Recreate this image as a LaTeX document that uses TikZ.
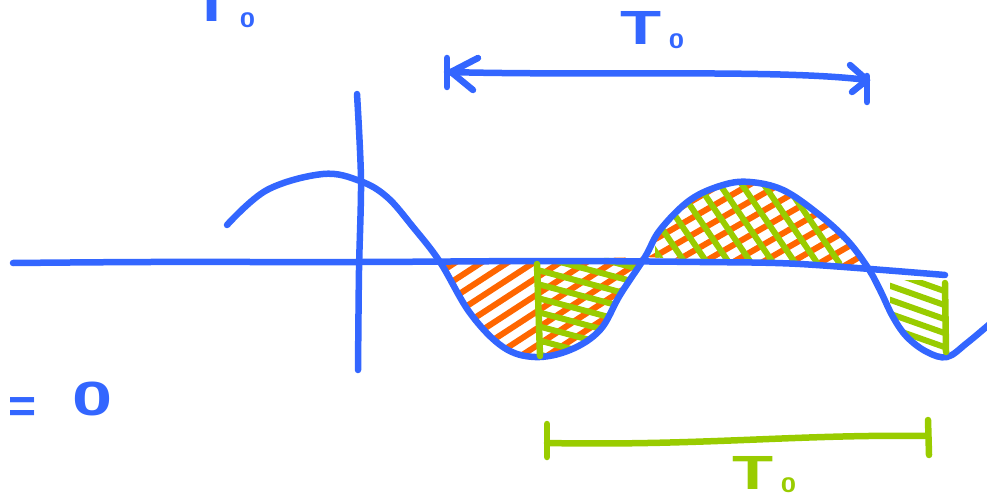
\documentclass[tikz,border=0pt]{standalone}
\usepackage{fontspec}
\setmainfont{Liberation Sans}
\usetikzlibrary{calc}
\definecolor{pblue}{RGB}{51,102,255}
\definecolor{porange}{RGB}{255,102,0}
\definecolor{pgreen}{RGB}{153,204,0}
\tikzset{
  ink/.style={line width=6.5pt, line cap=round, line join=round},
  blueink/.style={ink, draw=pblue},
  greenink/.style={ink, draw=pgreen},
  orhatch/.style={line width=6pt, line cap=round, draw=porange},
  grhatch/.style={line width=6pt, line cap=round, draw=pgreen},
  lbl/.style={inner sep=0pt, anchor=base west, font=\fontsize{48}{48}\selectfont\bfseries},
}
\newcommand\Tsub[1]{\scalebox{1.4}[1]{T}\hspace{7pt}\raisebox{#1}{\fontsize{25}{25}\selectfont\bfseries\scalebox{1.1}[0.85]{0}}}
\begin{document}
\begin{tikzpicture}[x=1pt,y=-1pt]
\useasboundingbox (0,0) rectangle (987,500);
\clip (0,0) rectangle (987,500);

% ---- hatching: first trough (orange)
\begin{scope}
  \clip plot[smooth,tension=0.6] coordinates {(440,262) (470,313) (503,347) (535,357) (570,350) (600,330) (620,295) (645,257)} -- cycle;
  \foreach \c in {262,279,...,520} \draw[orhatch] (430,\c) -- (650,{\c-143});
\end{scope}
% ---- hatching: first trough (green)
\begin{scope}
  \clip (537,240) rectangle (660,370);
  \clip plot[smooth,tension=0.6] coordinates {(440,262) (470,313) (503,347) (535,357) (570,350) (600,330) (620,295) (645,257)} -- cycle;
  \foreach \c in {240,254,...,370} \draw[grhatch] (530,\c) -- (650,{\c+32});
\end{scope}
% ---- hatching: peak (orange)
\begin{scope}
  \clip plot[smooth,tension=0.6] coordinates {(645,257) (660,230) (690,200) (723,185) (750,182) (783,190) (817,213) (847,240) (868,268)} -- cycle;
  \foreach \c in {180,197,...,420} \draw[orhatch] (640,\c) -- (870,{\c-133});
\end{scope}
% ---- hatching: peak (green)
\begin{scope}
  \clip (655,170) rectangle (842,275);
  \clip plot[smooth,tension=0.6] coordinates {(645,257) (660,230) (690,200) (723,185) (750,182) (783,190) (817,213) (847,240) (868,268)} -- cycle;
  \foreach \c in {600,622,...,840} \draw[grhatch] (\c,170) -- ({\c+68},270);
\end{scope}
% ---- hatching: last trough (green)
\begin{scope}
  \clip (890,280) rectangle (945,360);
  \clip plot[smooth,tension=0.6] coordinates {(868,268) (880,290) (893,317) (907,337) (927,352) (945,357)} -- (945,270) -- cycle;
  \foreach \c in {270,284,...,350} \draw[grhatch] (885,\c) -- (950,{\c+23});
\end{scope}

% ---- axes
\draw[blueink] plot[smooth] coordinates {(13,263) (150,262) (360,262) (550,261) (700,262) (800,264) (945,275)};
\draw[blueink] plot[smooth] coordinates {(357,94) (361,180) (359,270) (358,370)};

% ---- wave
\draw[blueink] plot[smooth,tension=0.6] coordinates {(227,225) (267,190) (323,174) (360,181) (387,197) (413,227) (440,262) (470,313) (503,347) (535,357) (570,350) (600,330) (620,295) (645,257) (660,230) (690,200) (723,185) (750,182) (783,190) (817,213) (847,240) (868,268) (880,290) (893,317) (907,337) (927,352) (947,357) (967,343) (992,322)};

% ---- green dividers
\draw[greenink] (537,264) -- (540,356);
\draw[greenink] (945,283) -- (946,352);

% ---- top double arrow
\coordinate (aL) at (447,72);
\coordinate (aR) at (867,80);
\draw[blueink] (aL) .. controls (600,76) and (780,69) .. (aR);
\draw[blueink] (478,58) -- (451,72) -- (473,90);
\draw[blueink] (447,58) -- (447,87);
\draw[blueink] (850,65) -- (aR) -- (852,92);
\draw[blueink] (867,76) -- (867,102);

% ---- bottom green bar
\coordinate (gL) at (547,443);
\coordinate (gR) at (928,436);
\draw[greenink] (gL) .. controls (700,446) and (800,434) .. (gR);
\draw[greenink] (547,424) -- (547,457);
\draw[greenink] (928,420) -- (929,455);

% ---- labels
\node[lbl, text=pblue] (ttop) at (620.5,45) {\Tsub{-4pt}};
\node[lbl, text=pblue] (tcorner) at (191.5,22) {\Tsub{-6pt}};
\node[lbl, text=pgreen] (tbottom) at (732.5,489) {\Tsub{-3pt}};
\node[lbl, text=pblue] (eqzero) at (8,415) {\raisebox{-7pt}{=}\hspace{36pt}\scalebox{1.5}[1]{0}};
\end{tikzpicture}
\end{document}
